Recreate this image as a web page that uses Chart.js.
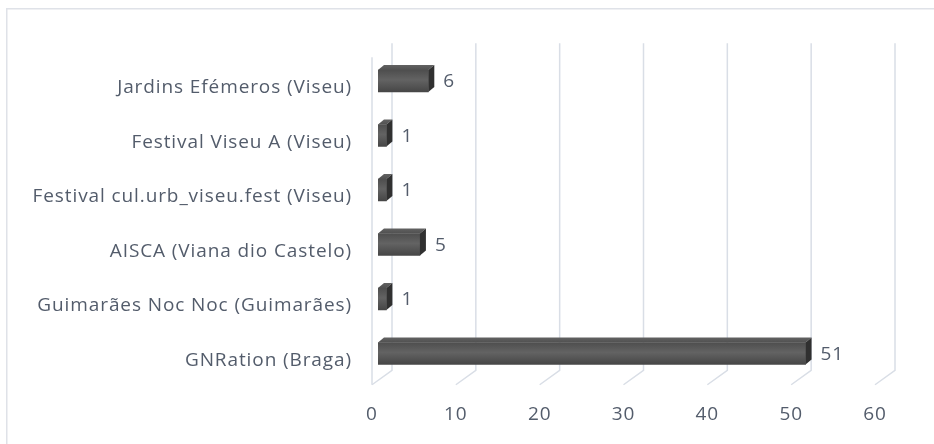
<!DOCTYPE html>
<html><head><meta charset="utf-8">
<script src="https://cdn.jsdelivr.net/npm/chart.js@4"></script>
<style>html,body{margin:0;padding:0;background:#fff}#wrap{width:934px;height:444px;position:relative}</style>
</head><body><div id="wrap"><canvas id="c" width="934" height="444"></canvas></div>
<script>
const categories = [
  "Jardins Efémeros (Viseu)",
  "Festival Viseu A (Viseu)",
  "Festival cul.urb_viseu.fest (Viseu)",
  "AISCA (Viana dio Castelo)",
  "Guimarães Noc Noc (Guimarães)",
  "GNRation (Braga)"
];
const values = [6, 1, 1, 5, 1, 51];
const xTicks = [0, 10, 20, 30, 40, 50, 60];

const TEXT = '#535c6b';
const GRID = '#d9dee6';
const DX = 6, DY = -4;      // bar placement inside the 3D box
const BDX = 6, BDY = -5;    // bar depth
const WDX = 20, WDY = -14.5; // wall depth
const SPACING = '0.9px';
const FONT_SIZE = 19;

function setSpacing(chart){ try { chart.ctx.letterSpacing = SPACING; } catch(e){} }

const threeD = {
  id: 'threeD',
  beforeLayout(chart){ setSpacing(chart); },
  beforeDraw(chart){
    setSpacing(chart);
    const ctx = chart.ctx;
    ctx.save();
    ctx.strokeStyle = '#dfe2e8';
    ctx.lineWidth = 1.5;
    ctx.strokeRect(6.75, 8.75, 2000, 2000);
    ctx.restore();
  },
  beforeDatasetsDraw(chart){
    const ctx = chart.ctx, xs = chart.scales.x, a = chart.chartArea;
    ctx.save();
    ctx.strokeStyle = GRID;
    ctx.lineWidth = 1.5;
    const x0 = xs.getPixelForValue(xTicks[0]);
    ctx.beginPath();
    ctx.moveTo(x0, a.top - 0.5);
    ctx.lineTo(x0, a.bottom);
    ctx.stroke();
    xTicks.forEach(v => {
      const xf = xs.getPixelForValue(v);
      ctx.beginPath();
      ctx.moveTo(xf + WDX, a.top + WDY);
      ctx.lineTo(xf + WDX, a.bottom + WDY);
      ctx.lineTo(xf, a.bottom);
      ctx.stroke();
    });
    ctx.restore();
    ctx.save();
    ctx.translate(DX, DY);
  },
  afterDatasetsDraw(chart){
    const ctx = chart.ctx;
    ctx.restore();
    const meta = chart.getDatasetMeta(0);
    ctx.save();
    meta.data.forEach((bar, i) => {
      const p = bar.getProps(['x','y','base','height'], true);
      const l = p.base + DX, r = p.x + DX;
      const t = p.y + DY - p.height/2, b = p.y + DY + p.height/2;
      ctx.beginPath();
      ctx.moveTo(l, t);
      ctx.lineTo(l + BDX, t + BDY);
      ctx.lineTo(r + BDX, t + BDY);
      ctx.lineTo(r, t);
      ctx.closePath();
      const gt = ctx.createLinearGradient(0, t + BDY, 0, t);
      gt.addColorStop(0, '#626262');
      gt.addColorStop(1, '#505050');
      ctx.fillStyle = gt;
      ctx.fill();
      ctx.beginPath();
      ctx.moveTo(r, t);
      ctx.lineTo(r + BDX, t + BDY);
      ctx.lineTo(r + BDX, b + BDY);
      ctx.lineTo(r, b);
      ctx.closePath();
      ctx.fillStyle = '#303030';
      ctx.fill();
      ctx.fillStyle = TEXT;
      ctx.font = FONT_SIZE + 'px "Open Sans"';
      ctx.textAlign = 'left';
      ctx.textBaseline = 'middle';
      ctx.fillText(String(values[i]), r + BDX + 9, p.y + DY + 1);
    });
    ctx.restore();
  }
};

Chart.defaults.font.family = '"Open Sans"';
Chart.defaults.font.size = FONT_SIZE;
Chart.defaults.color = TEXT;

new Chart(document.getElementById('c'), {
  type: 'bar',
  data: {
    labels: categories,
    datasets: [{
      data: values,
      barThickness: 22,
      borderWidth: 0,
      backgroundColor(c){
        const chart = c.chart;
        const ys = chart.scales && chart.scales.y;
        if (!ys || c.dataIndex === undefined) return '#555555';
        const y = ys.getPixelForValue(c.dataIndex);
        if (!isFinite(y)) return '#555555';
        const h = 22;
        const g = chart.ctx.createLinearGradient(0, y - h/2, 0, y + h/2);
        g.addColorStop(0, '#4e4e4e');
        g.addColorStop(0.45, '#636363');
        g.addColorStop(1, '#464646');
        return g;
      }
    }]
  },
  options: {
    indexAxis: 'y',
    responsive: false,
    animation: false,
    devicePixelRatio: 1,
    layout: { padding: { top: 57.75, right: 59, left: 0, bottom: 0 } },
    plugins: { legend: { display: false }, tooltip: { enabled: false } },
    scales: {
      x: {
        min: 0, max: 60,
        grid: { display: false, drawTicks: false, tickLength: 0 },
        border: { display: false },
        ticks: {
          stepSize: 10, padding: 18, color: TEXT,
          callback(v){ return xTicks.includes(v) ? String(v) : ''; }
        },
        afterFit(s){ s.height = 444 - 384.75; }
      },
      y: {
        grid: { display: false, drawTicks: false, tickLength: 0 },
        border: { display: false },
        ticks: { padding: 20, color: TEXT, autoSkip: false, labelOffset: 3 },
        afterFit(s){ s.width = 372; }
      }
    }
  },
  plugins: [threeD]
});
</script>
</body></html>
